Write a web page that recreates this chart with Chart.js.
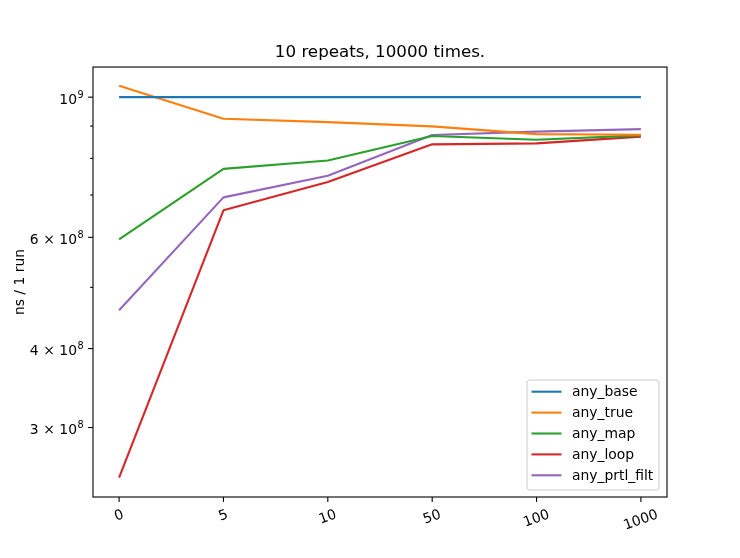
<!DOCTYPE html>
<html>
<head>
<meta charset="utf-8">
<script src="https://cdn.jsdelivr.net/npm/chart.js@4/dist/chart.umd.min.js"></script>
<style>
  html, body { margin: 0; padding: 0; background: #fff; }
  canvas { display: block; }
</style>
</head>
<body>
<canvas id="chart" width="740" height="558"></canvas>
<script>
// values (ns per run)
const categories = ['0', '5', '10', '50', '100', '1000'];
const anyBase = [1.000e9, 1.000e9, 1.000e9, 1.000e9, 1.000e9, 1.000e9];
const anyTrue = [1.042e9, 0.9245e9, 0.913e9, 0.899e9, 0.874e9, 0.872e9];
const anyMap = [0.5955e9, 0.770e9, 0.794e9, 0.868e9, 0.856e9, 0.870e9];
const anyLoop = [0.250e9, 0.662e9, 0.734e9, 0.842e9, 0.845e9, 0.866e9];
const anyPrtlFilt = [0.460e9, 0.694e9, 0.751e9, 0.871e9, 0.882e9, 0.890e9];

const yMajorTicks = [3e8, 4e8, 6e8, 1e9];
const yMinorTicks = [5e8, 7e8, 8e8, 9e8];

const FONT = '"DejaVu Sans", "Liberation Sans", sans-serif';
const TICK_PX = 13.9;

Chart.defaults.color = '#000';
Chart.defaults.font.family = FONT;

function toPoints(values) {
    return values.map((v, i) => ({ x: i, y: v }));
}

function series(label, values, color) {
    return {
        label: label,
        data: toPoints(values),
        borderColor: color,
        backgroundColor: color,
        borderWidth: 2.1,
        borderJoinStyle: 'round',
        pointRadius: 0,
        tension: 0,
        fill: false
    };
}

// draws frame, tick marks, tick labels (with superscripts) and the legend box
const axisDecor = {
    id: 'axisDecor',
    afterDraw(chart) {
        const { ctx, chartArea: a, scales: { x, y } } = chart;
        ctx.save();

        ctx.strokeStyle = '#000';
        ctx.lineWidth = 1.1;
        ctx.strokeRect(a.left, a.top, a.right - a.left, a.bottom - a.top);

        // x ticks + rotated labels
        const rot = 20 * Math.PI / 180;
        ctx.font = TICK_PX + 'px ' + FONT;
        categories.forEach((c, i) => {
            const px = x.getPixelForValue(i);
            ctx.beginPath();
            ctx.moveTo(px, a.bottom);
            ctx.lineTo(px, a.bottom + 4.9);
            ctx.stroke();

            const w = ctx.measureText(c).width;
            const h = 16;
            const H = w * Math.sin(rot) + h * Math.cos(rot);
            const cy = a.bottom + 9.8 + H / 2;
            ctx.save();
            ctx.translate(px, cy);
            ctx.rotate(-rot);
            ctx.textAlign = 'center';
            ctx.textBaseline = 'middle';
            ctx.fillText(c, 0, 0);
            ctx.restore();
        });

        // y minor ticks
        yMinorTicks.forEach(v => {
            const py = y.getPixelForValue(v);
            ctx.beginPath();
            ctx.moveTo(a.left, py);
            ctx.lineTo(a.left - 2.8, py);
            ctx.stroke();
        });

        // y major ticks with mathtext-like labels
        yMajorTicks.forEach(v => {
            const py = y.getPixelForValue(v);
            ctx.beginPath();
            ctx.moveTo(a.left, py);
            ctx.lineTo(a.left - 4.9, py);
            ctx.stroke();

            const exp = Math.floor(Math.log10(v) + 1e-9);
            const mant = Math.round(v / Math.pow(10, exp));
            const base = mant === 1 ? '10' : mant + '\u2004\u00d7\u200410';
            const sup = String(exp);
            ctx.font = TICK_PX + 'px ' + FONT;
            const wb = ctx.measureText(base).width;
            ctx.font = '9.7px ' + FONT;
            const ws = ctx.measureText(sup).width;
            const right = a.left - 9.3;
            const baseline = py + 6.5;
            ctx.textAlign = 'left';
            ctx.textBaseline = 'alphabetic';
            ctx.font = TICK_PX + 'px ' + FONT;
            ctx.fillText(base, right - ws - wb - 0.5, baseline);
            ctx.font = '9.7px ' + FONT;
            ctx.fillText(sup, right - ws, baseline - 6);
        });

        // legend, lower right inside the axes
        const ds = chart.data.datasets;
        const lw = 132, lh = 110;
        const lx = a.right - 8 - lw, ly = a.bottom - 7 - lh;
        ctx.beginPath();
        ctx.roundRect(lx, ly, lw, lh, 3);
        ctx.fillStyle = 'rgba(255,255,255,0.8)';
        ctx.fill();
        ctx.strokeStyle = '#cccccc';
        ctx.lineWidth = 1;
        ctx.stroke();
        ctx.font = TICK_PX + 'px ' + FONT;
        ctx.textAlign = 'left';
        ctx.textBaseline = 'middle';
        ds.forEach((d, i) => {
            const ry = ly + 11.7 + i * 20.9;
            ctx.strokeStyle = d.borderColor;
            ctx.lineWidth = 2.1;
            ctx.beginPath();
            ctx.moveTo(lx + 4.5, ry);
            ctx.lineTo(lx + 34.5, ry);
            ctx.stroke();
            ctx.fillStyle = '#000';
            ctx.fillText(d.label, lx + 45, ry + 1);
        });

        ctx.restore();
    }
};

const chart = new Chart(document.getElementById('chart'), {
    type: 'line',
    data: {
        datasets: [
            series('any_base', anyBase, '#1f77b4'),
            series('any_true', anyTrue, '#ff7f0e'),
            series('any_map', anyMap, '#2ca02c'),
            series('any_loop', anyLoop, '#d62728'),
            series('any_prtl_filt', anyPrtlFilt, '#9467bd')
        ]
    },
    options: {
        responsive: false,
        animation: false,
        devicePixelRatio: 1,
        layout: { padding: { top: 0, right: 73, bottom: 0, left: 0 } },
        plugins: {
            legend: { display: false },
            tooltip: { enabled: false },
            title: {
                display: true,
                text: '10 repeats, 10000 times.',
                fullSize: false,
                color: '#000',
                font: { size: 16.7, weight: 'normal', family: FONT },
                padding: { top: 43, bottom: 4 }
            }
        },
        scales: {
            x: {
                type: 'linear',
                bounds: 'data',
                min: -0.25,
                max: 5.25,
                grid: { display: false },
                border: { display: false },
                ticks: { display: false },
                afterFit: s => { s.height = 61; }
            },
            y: {
                type: 'logarithmic',
                bounds: 'data',
                min: 2.329e8,
                max: 1.116e9,
                grid: { display: false },
                border: { display: false },
                ticks: { display: false },
                title: {
                    display: true,
                    text: 'ns / 1 run',
                    color: '#000',
                    font: { size: 13.9, family: FONT },
                    padding: { top: 12.5, bottom: 0 }
                },
                afterFit: s => { s.width = 93; }
            }
        }
    },
    plugins: [axisDecor]
});
</script>
</body>
</html>
